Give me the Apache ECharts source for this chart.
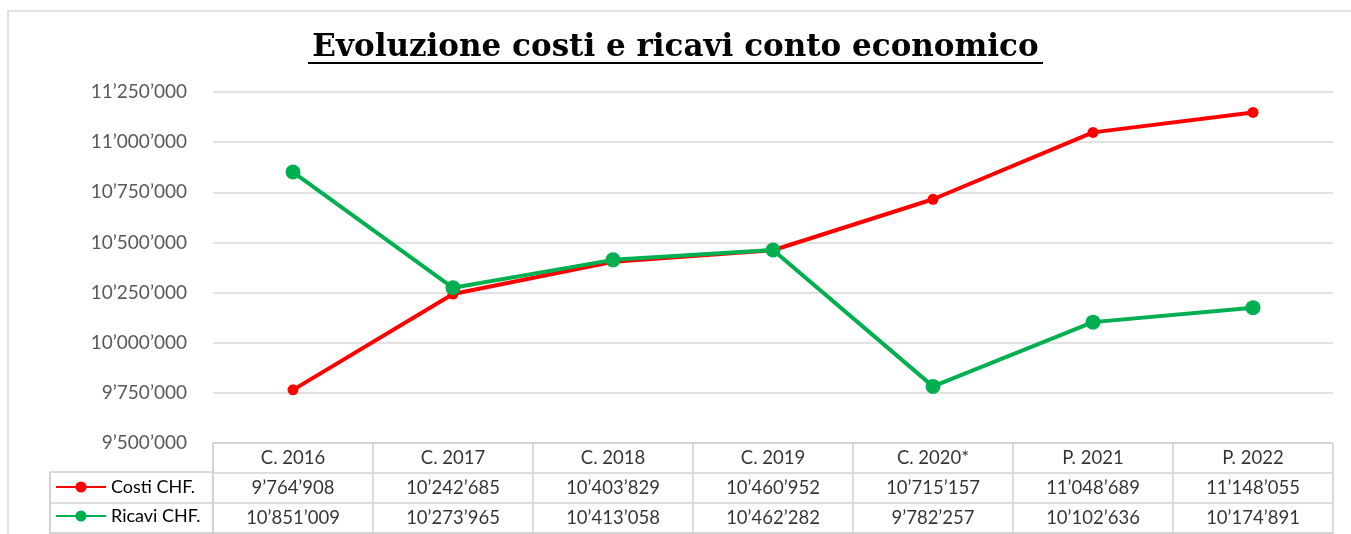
<!DOCTYPE html>
<html>
<head>
<meta charset="utf-8">
<script src="https://cdn.jsdelivr.net/npm/echarts@6/dist/echarts.min.js"></script>
<style>
  html, body { margin: 0; padding: 0; background: #fff; }
  #chart { width: 1351px; height: 534px; }
</style>
</head>
<body>
<div id="chart"></div>
<script>
// dati
var categories = ['C. 2016', 'C. 2017', 'C. 2018', 'C. 2019', 'C. 2020*', 'P. 2021', 'P. 2022'];
var costi = [9764908, 10242685, 10403829, 10460952, 10715157, 11048689, 11148055];
var ricavi = [10851009, 10273965, 10413058, 10462282, 9782257, 10102636, 10174891];
var seriesNames = ['Costi CHF.', 'Ricavi CHF.'];
var tableRows = ['header', 'costi', 'ricavi'];

// 10851009 -> 10’851’009
function fmt(v) {
    return String(Math.round(v)).replace(/\B(?=(\d{3})+(?!\d))/g, '\u2019');
}

// celle della tabella
var cells = [];
for (var i = 0; i < categories.length; i++) {
    cells.push({name: categories[i], value: [i, 0]});
    cells.push({name: fmt(costi[i]), value: [i, 1]});
    cells.push({name: fmt(ricavi[i]), value: [i, 2]});
}

var gridLine = {show: true, lineStyle: {color: '#d0d0d0', width: 1.5}};
var labelFont = 'Lato, "Open Sans", sans-serif';

var myChart = echarts.init(document.getElementById('chart'));
var option = {
    backgroundColor: '#fff',
    animation: false,
    title: {
        text: 'Evoluzione costi e ricavi conto economico',
        left: 'center',
        top: 27,
        textStyle: {
            fontFamily: '"DejaVu Serif", serif',
            fontWeight: 'bold',
            fontSize: 31,
            color: '#000'
        }
    },
    graphic: [
        {   // cornice
            type: 'rect',
            shape: {x: 8, y: 11, width: 1400, height: 600},
            style: {fill: 'none', stroke: '#d9d9d9', lineWidth: 1.5},
            silent: true
        },
        {   // sottolineatura titolo
            type: 'line',
            shape: {x1: 308, y1: 63, x2: 1043, y2: 63},
            style: {stroke: '#000', lineWidth: 2}
        }
    ],
    legend: {
        orient: 'vertical',
        left: 55,
        top: 478,
        padding: 0,
        itemWidth: 50,
        itemHeight: 14,
        itemGap: 11,
        data: seriesNames,
        textStyle: {fontFamily: labelFont, fontSize: 18, lineHeight: 14, color: '#000'}
    },
    grid: [
        {left: 213, right: 18, top: 92, bottom: 91},           // grafico
        {left: 213, right: 18, top: 443, height: 90},          // tabella
        {left: 50, width: 163, top: 472, height: 61}           // colonna legenda
    ],
    xAxis: [
        {
            gridIndex: 0, type: 'category', data: categories, boundaryGap: true,
            axisLine: {show: false}, axisTick: {show: false}, axisLabel: {show: false}
        },
        {
            gridIndex: 1, type: 'category', data: categories, boundaryGap: true,
            axisLine: gridLine, axisTick: {show: false}, axisLabel: {show: false},
            splitLine: {show: true, interval: 0, lineStyle: {color: '#d0d0d0', width: 1.5}}
        },
        {
            gridIndex: 2, type: 'category', data: [''], boundaryGap: true,
            axisLine: gridLine, axisTick: {show: false}, axisLabel: {show: false},
            splitLine: {show: true, interval: 0, lineStyle: {color: '#d0d0d0', width: 1.5}}
        }
    ],
    yAxis: [
        {
            gridIndex: 0, type: 'value', min: 9500000, max: 11250000, interval: 250000,
            axisLine: {show: false}, axisTick: {show: false},
            axisLabel: {
                formatter: fmt, margin: 26, color: '#595959',
                fontFamily: labelFont, fontSize: 19
            },
            splitLine: {show: true, lineStyle: {color: '#d9d9d9', width: 1.5}}
        },
        {
            gridIndex: 1, type: 'category', data: tableRows, inverse: true, boundaryGap: true,
            axisLine: gridLine, axisTick: {show: false}, axisLabel: {show: false},
            splitLine: {show: true, interval: 0, lineStyle: {color: '#d0d0d0', width: 1.5}}
        },
        {
            gridIndex: 2, type: 'category', data: ['costi', 'ricavi'], inverse: true, boundaryGap: true,
            axisLine: gridLine, axisTick: {show: false}, axisLabel: {show: false},
            splitLine: {show: true, interval: 0, lineStyle: {color: '#d0d0d0', width: 1.5}}
        }
    ],
    series: [
        {
            name: seriesNames[0],
            type: 'line',
            data: costi,
            symbol: 'circle',
            symbolSize: 11,
            itemStyle: {color: '#ff0000'},
            lineStyle: {color: '#ff0000', width: 4}
        },
        {
            name: seriesNames[1],
            type: 'line',
            data: ricavi,
            symbol: 'circle',
            symbolSize: 15,
            itemStyle: {color: '#00b050'},
            lineStyle: {color: '#00b050', width: 4}
        },
        {
            type: 'scatter',
            xAxisIndex: 1,
            yAxisIndex: 1,
            symbolSize: 0,
            silent: true,
            data: cells,
            label: {
                show: true,
                position: 'inside',
                formatter: '{b}',
                fontFamily: labelFont,
                fontSize: 18.5,
                color: '#000'
            }
        }
    ]
};
myChart.setOption(option);
</script>
</body>
</html>
